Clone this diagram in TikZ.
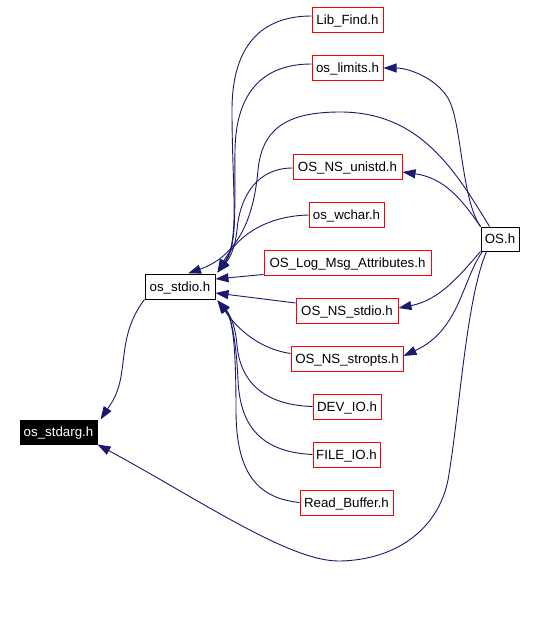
\documentclass[tikz,border=0pt]{standalone}
\usepackage{fontspec}
\setmainfont{Liberation Sans}
\usetikzlibrary{arrows.meta}
\definecolor{navy}{HTML}{191970}
\tikzset{
  box/.style={draw=red, line width=1pt, inner sep=0pt, minimum height=25pt,
    text height=9.5pt, text depth=-2.5pt, font=\fontsize{13.3}{15}\selectfont, fill=white},
  blackbox/.style={box, draw=black},
  dark/.style={box, draw=black, fill=black, text=white},
  edge/.style={draw=navy, line width=0.9pt, -{Triangle[length=13pt,width=9pt]}},
}
\begin{document}
\begin{tikzpicture}[x=1pt,y=-1pt]
\useasboundingbox (0,0) rectangle (536,627);
% nodes
\node[box, minimum width=71pt] (libfind) at (347.5,19.5) {Lib\_Find.h};
\node[box, minimum width=71pt] (limits) at (347.5,68) {os\_limits.h};
\node[box, minimum width=109pt] (unistd) at (347.5,166.5) {OS\_NS\_unistd.h};
\node[box, minimum width=75pt] (wchar) at (346.5,215) {os\_wchar.h};
\node[box, minimum width=167pt] (logmsg) at (347.5,262.5) {OS\_Log\_Msg\_Attributes.h};
\node[box, minimum width=102pt] (nsstdio) at (347,310.5) {OS\_NS\_stdio.h};
\node[box, minimum width=112pt] (stropts) at (347,358.5) {OS\_NS\_stropts.h};
\node[box, minimum width=68pt] (devio) at (347,406.5) {DEV\_IO.h};
\node[box, minimum width=67pt] (fileio) at (346.5,454.5) {FILE\_IO.h};
\node[box, minimum width=93pt] (readbuf) at (346.5,502.5) {Read\_Buffer.h};
\node[blackbox, minimum width=70pt] (stdio) at (180,286.5) {os\_stdio.h};
\node[dark, minimum width=77pt, minimum height=24pt] (stdarg) at (58.5,432) {os\_stdarg.h};
\node[blackbox, minimum width=38pt, minimum height=24pt] (os) at (500,239) {OS.h};
% edges into os_stdio
\draw[edge] ([yshift=3.5pt]libfind.west) .. controls (262,16) and (232,45) .. (232,110)
  .. controls (232,190) and (240,240) .. ([xshift=2pt,yshift=1pt]stdio.north east);
\draw[edge] ([yshift=4pt]limits.west) .. controls (265,64) and (236,90) .. (235,150)
  .. controls (234,205) and (238,245) .. ([xshift=2pt,yshift=1pt]stdio.north east);
\draw[edge] ([yshift=-1.5pt]unistd.west) .. controls (258,168) and (240,195) .. (237,230)
  .. controls (235,248) and (230,258) .. ([xshift=2pt,yshift=1pt]stdio.north east);
\draw[edge] (wchar.west) .. controls (270,216) and (240,232) .. ([xshift=2pt,yshift=1pt]stdio.north east);
\draw[edge] ([yshift=-12pt]logmsg.west) -- ([yshift=7.5pt]stdio.east);
\draw[edge] ([yshift=7.5pt]nsstdio.west) -- ([yshift=-6.5pt]stdio.east);
\draw[edge] ([yshift=5pt]stropts.west) .. controls (255,348) and (235,325) .. ([xshift=2pt,yshift=-1pt]stdio.south east);
\draw[edge] (devio.west) .. controls (262,405) and (240,380) .. (237,345)
  .. controls (235,322) and (228,312) .. ([xshift=2pt,yshift=-1pt]stdio.south east);
\draw[edge] (fileio.west) .. controls (260,452) and (240,425) .. (238,380)
  .. controls (236,335) and (230,315) .. ([xshift=2pt,yshift=-1pt]stdio.south east);
\draw[edge] (readbuf.west) .. controls (255,498) and (236,470) .. (236,410)
  .. controls (236,340) and (232,318) .. ([xshift=2pt,yshift=-1pt]stdio.south east);
% edges from OS.h
\draw[edge] ([xshift=9pt]os.north west) .. controls (455,170) and (420,112) .. (340,112)
  .. controls (285,112) and (262,130) .. (258,170)
  .. controls (254,215) and (240,255) .. ([xshift=8pt]stdio.north);
\draw[edge] (os.north west) .. controls (462,200) and (462,130) .. (450,102)
  .. controls (440,80) and (410,68) .. (limits.east);
\draw[edge] (os.north west) .. controls (462,200) and (445,178) .. ([yshift=-5.5pt]unistd.east);
\draw[edge] (os.south west) .. controls (460,275) and (440,300) .. ([yshift=2.5pt]nsstdio.east);
\draw[edge] ([xshift=2pt]os.south west) .. controls (462,280) and (460,330) .. ([yshift=2.5pt]stropts.east);
\draw[edge] ([xshift=6pt]os.south west) .. controls (466,300) and (460,410) .. (448,480)
  .. controls (438,530) and (395,560) .. (340,561)
  .. controls (290,562) and (200,500) .. (stdarg.south east);
% os_stdio to os_stdarg
\draw[edge] (stdio.south west) .. controls (125,325) and (125,350) .. (122,370)
  .. controls (119,395) and (110,405) .. ([xshift=3pt]stdarg.north east);
\end{tikzpicture}
\end{document}
